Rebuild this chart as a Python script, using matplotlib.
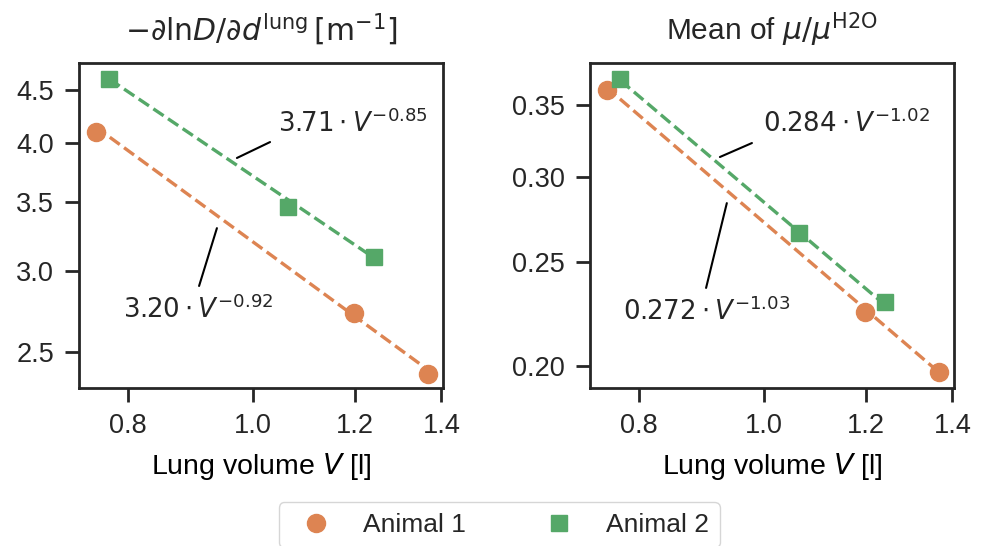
import numpy as np
import matplotlib
matplotlib.use("Agg")
import matplotlib.pyplot as plt
from matplotlib.ticker import FixedLocator, FormatStrFormatter, NullLocator

# 数据
vol_a1 = [0.755, 1.197, 1.366]
vol_a2 = [0.774, 1.064, 1.242]

dlnD_a1 = [4.10, 2.73, 2.38]
dlnD_a2 = [4.61, 3.46, 3.09]

mu_a1 = [0.3615, 0.2246, 0.1972]
mu_a2 = [0.370, 0.2658, 0.229]

# 拟合参数 a * V^b
fit_dlnD = {"Animal 1": (3.20, -0.92), "Animal 2": (3.71, -0.85)}
fit_mu = {"Animal 1": (0.272, -1.03), "Animal 2": (0.284, -1.02)}

x_ticks = [0.8, 1.0, 1.2, 1.4]
y_ticks_left = [2.5, 3.0, 3.5, 4.0, 4.5]
y_ticks_right = [0.20, 0.25, 0.30, 0.35]

orange = "#DD8452"
green = "#55A868"

plt.rcParams["font.family"] = ["Liberation Sans", "DejaVu Sans"]
plt.rcParams["mathtext.fontset"] = "dejavusans"
plt.rcParams["axes.linewidth"] = 2.0
plt.rcParams["xtick.major.size"] = 10
plt.rcParams["ytick.major.size"] = 10
plt.rcParams["xtick.major.width"] = 2.0
plt.rcParams["ytick.major.width"] = 2.0
plt.rcParams["xtick.major.pad"] = 8
plt.rcParams["ytick.major.pad"] = 8
plt.rcParams["xtick.labelsize"] = 19.5
plt.rcParams["ytick.labelsize"] = 19.5
plt.rcParams["axes.edgecolor"] = "#262626"
plt.rcParams["text.color"] = "#262626"
plt.rcParams["xtick.color"] = "#262626"
plt.rcParams["ytick.color"] = "#262626"

fig = plt.figure(figsize=(9.81, 5.46), dpi=100)
ax1 = fig.add_axes([0.0805, 0.2894, 0.371, 0.595])
ax2 = fig.add_axes([0.6014, 0.2894, 0.371, 0.595])


def draw_panel(ax, y1, y2, fits, yticks, yfmt, ylim):
    for vol, vals, name, color, marker in [
        (vol_a1, y1, "Animal 1", orange, "o"),
        (vol_a2, y2, "Animal 2", green, "s"),
    ]:
        a, b = fits[name]
        xs = np.array([min(vol), max(vol)])
        ax.plot(xs, a * xs ** b, "--", color=color, lw=2.4, zorder=2)
        ax.plot(vol, vals, marker, color=color, ms=13 if marker == "o" else 12,
                ls="none", label=name, zorder=3)
    ax.set_xscale("log")
    ax.set_yscale("log")
    ax.set_xlim(0.733, 1.404)
    ax.set_ylim(*ylim)
    ax.xaxis.set_major_locator(FixedLocator(x_ticks))
    ax.xaxis.set_minor_locator(NullLocator())
    ax.xaxis.set_major_formatter(FormatStrFormatter("%.1f"))
    ax.yaxis.set_major_locator(FixedLocator(yticks))
    ax.yaxis.set_minor_locator(NullLocator())
    ax.yaxis.set_major_formatter(FormatStrFormatter(yfmt))
    ax.set_xlabel(r"Lung volume $V$ [l]", fontsize=20.5, labelpad=9)


def label_fit(ax, text, start, end, pos):
    ax.annotate("", xy=start, xytext=end, xycoords="axes fraction",
                textcoords="axes fraction",
                arrowprops=dict(arrowstyle="-", color="k", lw=1.5,
                                shrinkA=0, shrinkB=0))
    ax.text(pos[0], pos[1], text, transform=ax.transAxes, fontsize=18.7,
            ha="left", va="baseline")


draw_panel(ax1, dlnD_a1, dlnD_a2, fit_dlnD, y_ticks_left, "%.1f", (2.304, 4.782))
draw_panel(ax2, mu_a1, mu_a2, fit_mu, y_ticks_right, "%.2f", (0.1906, 0.3828))

ax1.set_title(r"$-\partial\mathrm{ln}D/\partial d^{\mathrm{lung}}\,[\mathrm{m}^{-1}]$",
              fontsize=21.5, pad=16)
ax2.set_title(r"Mean of $\mu/\mu^{\mathrm{H2O}}$", fontsize=21.5, pad=16)

a, b = fit_dlnD["Animal 2"]
label_fit(ax1, r"$%.2f \cdot V^{%.2f}$" % (a, b), (0.434, 0.708), (0.525, 0.757), (0.547, 0.788))
a, b = fit_dlnD["Animal 1"]
label_fit(ax1, r"$%.2f \cdot V^{%.2f}$" % (a, b), (0.379, 0.492), (0.330, 0.314), (0.121, 0.215))
a, b = fit_mu["Animal 2"]
label_fit(ax2, r"$%.3f \cdot V^{%.2f}$" % (a, b), (0.357, 0.711), (0.445, 0.754), (0.475, 0.788))
a, b = fit_mu["Animal 1"]
label_fit(ax2, r"$%.3f \cdot V^{%.2f}$" % (a, b), (0.376, 0.569), (0.319, 0.308), (0.091, 0.209))

handles, labels = ax1.get_legend_handles_labels()
fig.legend(handles, labels, loc="upper center", bbox_to_anchor=(0.509, 0.08),
           ncol=2, fontsize=19, columnspacing=2.5, handletextpad=0.8,
           frameon=True, edgecolor="#cccccc", borderpad=0.4, borderaxespad=0)

fig.savefig("out.png", dpi=100)
